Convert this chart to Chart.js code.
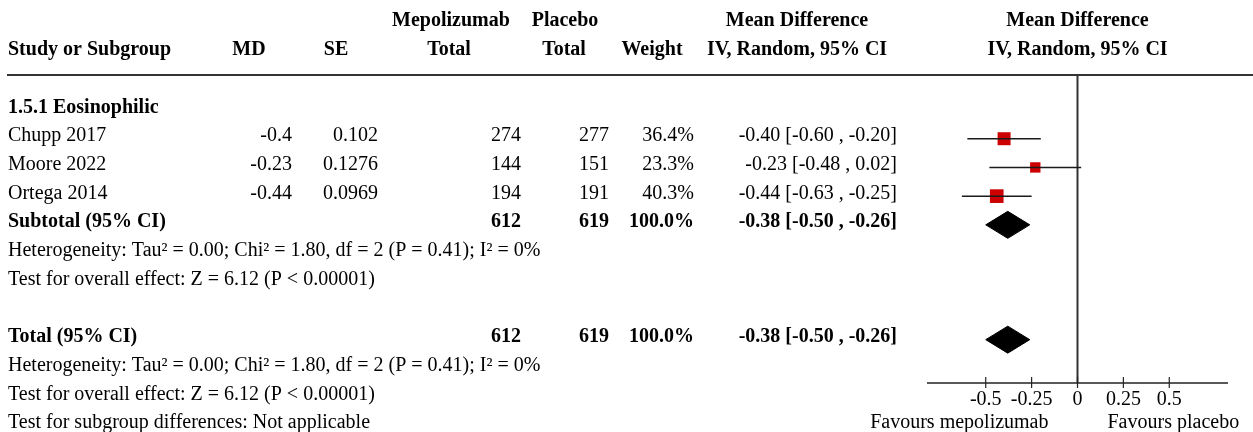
<!DOCTYPE html>
<html>
<head>
<meta charset="utf-8">
<script src="https://cdn.jsdelivr.net/npm/chart.js@4/dist/chart.umd.min.js"></script>
<style>
  html, body { margin: 0; padding: 0; background: #fff; }
  #wrap { width: 1253px; height: 432px; position: relative; }
</style>
</head>
<body>
<div id="wrap"><canvas id="forest" width="1253" height="432"></canvas></div>
<script>
// Study-level data
const studies = ['Chupp 2017', 'Moore 2022', 'Ortega 2014'];
const md = [-0.4, -0.23, -0.44];
const se = [0.102, 0.1276, 0.0969];
const mepoTotal = [274, 144, 194];
const placeboTotal = [277, 151, 191];
const weights = [36.4, 23.3, 40.3];
const ciLow = [-0.60, -0.48, -0.63];
const ciHigh = [-0.20, 0.02, -0.25];

// Pooled estimates (subtotal and overall are identical here)
const pooledEst = -0.38;
const pooledLow = -0.50;
const pooledHigh = -0.26;
const pooledMepo = 612;
const pooledPlacebo = 619;
const pooledWeight = 100.0;

const heterogeneityText = 'Heterogeneity: Tau\u00B2 = 0.00; Chi\u00B2 = 1.80, df = 2 (P = 0.41); I\u00B2 = 0%';
const overallEffectText = 'Test for overall effect: Z = 6.12 (P < 0.00001)';
const subgroupDiffText = 'Test for subgroup differences: Not applicable';
const subgroupTitle = '1.5.1 Eosinophilic';

const xTicks = [-0.5, -0.25, 0, 0.25, 0.5];
const favoursLeft = 'Favours mepolizumab';
const favoursRight = 'Favours placebo';

// Row layout (row units on the hidden y scale)
const studyRows = [3, 4, 5];
const subtotalRow = 6;
const totalRow = 10;
const diamondHalf = 0.47;

const FONT = '"Liberation Serif", "Times New Roman", serif';
const fmt2 = v => v.toFixed(2);
const ciText = (e, l, h) => `${fmt2(e)} [${fmt2(l)} , ${fmt2(h)}]`;

function diamond(row) {
  return [
    { x: pooledLow, y: row },
    { x: pooledEst, y: row - diamondHalf },
    { x: pooledHigh, y: row },
    { x: pooledEst, y: row + diamondHalf },
    { x: pooledLow, y: row }
  ];
}

const datasets = [];
// confidence interval whiskers
studies.forEach((s, i) => {
  datasets.push({
    type: 'line',
    data: [{ x: ciLow[i], y: studyRows[i] }, { x: ciHigh[i], y: studyRows[i] }],
    borderColor: '#1a1a1a',
    borderWidth: 1.5,
    pointRadius: 0,
    fill: false
  });
});
// weighted point estimates
datasets.push({
  type: 'scatter',
  data: studies.map((s, i) => ({ x: md[i], y: studyRows[i] })),
  pointStyle: 'rect',
  pointRadius: weights.map(w => 2.15 * Math.sqrt(w) / Math.SQRT2),
  backgroundColor: '#cc0000',
  borderColor: '#cc0000',
  borderWidth: 0
});
// pooled diamonds
[subtotalRow, totalRow].forEach(r => {
  datasets.push({
    type: 'line',
    data: diamond(r),
    borderColor: '#000',
    backgroundColor: '#000',
    borderWidth: 1,
    pointRadius: 0,
    fill: 'shape',
    tension: 0
  });
});

const decor = {
  id: 'decor',
  beforeDatasetsDraw(chart) {
    const { ctx, chartArea, scales: { x } } = chart;
    const x0 = x.getPixelForValue(0);
    ctx.save();
    // header rule
    ctx.strokeStyle = '#333';
    ctx.lineWidth = 2;
    ctx.beginPath();
    ctx.moveTo(7, chartArea.top);
    ctx.lineTo(1253, chartArea.top);
    ctx.stroke();
    // line of no effect
    ctx.beginPath();
    ctx.moveTo(x0, chartArea.top);
    ctx.lineTo(x0, chartArea.bottom);
    ctx.stroke();
    // axis line and ticks
    ctx.strokeStyle = '#222';
    ctx.lineWidth = 1.5;
    ctx.beginPath();
    ctx.moveTo(chartArea.left, chartArea.bottom);
    ctx.lineTo(chartArea.right, chartArea.bottom);
    ctx.stroke();
    ctx.lineWidth = 1.2;
    xTicks.forEach(t => {
      const px = x.getPixelForValue(t);
      ctx.beginPath();
      ctx.moveTo(px, chartArea.bottom - 6);
      ctx.lineTo(px, chartArea.bottom + 5);
      ctx.stroke();
    });
    ctx.restore();
  },
  afterDraw(chart) {
    const { ctx, scales: { x, y } } = chart;
    const base = r => y.getPixelForValue(r) + 2.5;
    const x0 = x.getPixelForValue(0);
    ctx.save();
    ctx.fillStyle = '#000';
    const put = (txt, px, row, align, bold) => {
      ctx.font = `${bold ? 'bold ' : ''}20px ${FONT}`;
      ctx.textAlign = align;
      ctx.textBaseline = 'alphabetic';
      ctx.fillText(txt, px, base(row));
    };
    // column headers
    put('Mepolizumab', 451, -1, 'center', true);
    put('Placebo', 565, -1, 'center', true);
    put('Mean Difference', 797, -1, 'center', true);
    put('Mean Difference', x0, -1, 'center', true);
    put('Study or Subgroup', 8, 0, 'left', true);
    put('MD', 249, 0, 'center', true);
    put('SE', 336, 0, 'center', true);
    put('Total', 449, 0, 'center', true);
    put('Total', 564, 0, 'center', true);
    put('Weight', 652, 0, 'center', true);
    put('IV, Random, 95% CI', 797, 0, 'center', true);
    put('IV, Random, 95% CI', x0, 0, 'center', true);

    put(subgroupTitle, 8, 2, 'left', true);
    studies.forEach((s, i) => {
      const r = studyRows[i];
      put(s, 8, r, 'left', false);
      put(String(md[i]), 292, r, 'right', false);
      put(String(se[i]), 378, r, 'right', false);
      put(String(mepoTotal[i]), 521, r, 'right', false);
      put(String(placeboTotal[i]), 609, r, 'right', false);
      put(weights[i].toFixed(1) + '%', 694, r, 'right', false);
      put(ciText(md[i], ciLow[i], ciHigh[i]), 897, r, 'right', false);
    });
    const pooledRow = (label, r) => {
      put(label, 8, r, 'left', true);
      put(String(pooledMepo), 521, r, 'right', true);
      put(String(pooledPlacebo), 609, r, 'right', true);
      put(pooledWeight.toFixed(1) + '%', 694, r, 'right', true);
      put(ciText(pooledEst, pooledLow, pooledHigh), 897, r, 'right', true);
    };
    pooledRow('Subtotal (95% CI)', subtotalRow);
    put(heterogeneityText, 8, subtotalRow + 1, 'left', false);
    put(overallEffectText, 8, subtotalRow + 2, 'left', false);
    pooledRow('Total (95% CI)', totalRow);
    put(heterogeneityText, 8, totalRow + 1, 'left', false);
    put(overallEffectText, 8, totalRow + 2, 'left', false);
    put(subgroupDiffText, 8, totalRow + 3, 'left', false);

    // direction labels under the axis
    put(favoursLeft, x0 - 29, totalRow + 3, 'right', false);
    put(favoursRight, x0 + 30, totalRow + 3, 'left', false);
    ctx.restore();
  }
};

new Chart(document.getElementById('forest'), {
  type: 'scatter',
  data: { datasets },
  options: {
    responsive: false,
    animation: false,
    devicePixelRatio: 1,
    events: [],
    layout: { padding: { left: 927, right: 25, top: 75, bottom: 0 } },
    plugins: { legend: { display: false }, tooltip: { enabled: false } },
    scales: {
      x: {
        type: 'linear',
        min: -0.82,
        max: 0.82,
        afterBuildTicks: scale => { scale.ticks = xTicks.map(v => ({ value: v })); },
        afterFit: scale => { scale.height = 49; },
        grid: { display: false, drawTicks: false },
        border: { display: false },
        ticks: {
          padding: 5,
          autoSkip: false,
          maxRotation: 0,
          color: '#000',
          font: { family: FONT, size: 20 },
          callback: v => String(v)
        }
      },
      y: {
        type: 'linear',
        display: false,
        reverse: true,
        min: 0.78,
        max: 11.51
      }
    }
  },
  plugins: [decor]
});
</script>
</body>
</html>
